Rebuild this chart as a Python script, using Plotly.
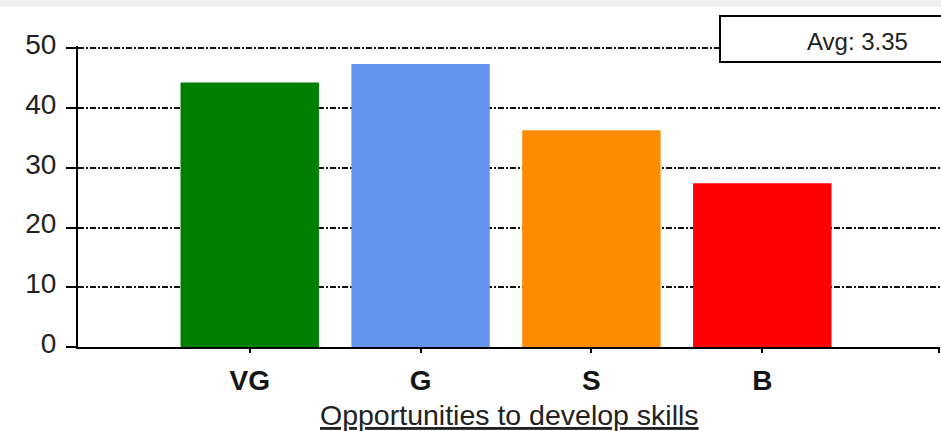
import plotly.graph_objects as go

categories = ["VG", "G", "S", "B"]
values = [44.3, 47.4, 36.3, 27.4]
colors = ["#008000", "#6495ED", "#FF8C00", "#FF0000"]
avg_label = "Avg: 3.35"
x_title = "Opportunities to develop skills"
y_ticks = [0, 10, 20, 30, 40, 50]

W, H = 941, 431
L, R, T, B = 78, 1, 46, 84
ph = H - T - B

def py(pix):
    return (H - B - pix) / ph

def px(pix):
    return (pix - L) / (W - L - R)

xpos = list(range(len(categories)))
fig = go.Figure()
fig.add_trace(go.Bar(
    x=xpos, y=values,
    marker=dict(color=colors, line=dict(width=0)),
    width=0.81, hoverinfo="skip",
))

fig.update_layout(
    width=W, height=H,
    margin=dict(l=L, r=R, t=T, b=B, autoexpand=False),
    paper_bgcolor="white", plot_bgcolor="white",
    showlegend=False,
    font=dict(family="Liberation Sans, Arial, sans-serif", color="#222222"),
    xaxis=dict(
        range=[-1.005, 4.04],
        tickmode="array",
        tickvals=xpos + [4.035],
        ticktext=categories + [""],
        tickfont=dict(size=28, family="Liberation Sans, Arial, sans-serif",
                      color="#151515", weight="bold"),
        ticks="outside", ticklen=4, tickwidth=1.5, tickcolor="black",
        ticklabelstandoff=3,
        showline=True, linecolor="black", linewidth=2,
        showgrid=False, zeroline=False, automargin=False,
    ),
    yaxis=dict(
        range=[0, 50.4],
        tickmode="array", tickvals=y_ticks,
        tickfont=dict(size=28, family="Liberation Sans, Arial, sans-serif", color="#222222"),
        ticks="outside", ticklen=10, tickwidth=1.5, tickcolor="black",
        ticklabelstandoff=4, ticklabelshift=-4,
        showline=True, linecolor="black", linewidth=2,
        showgrid=True, gridcolor="#111111", griddash="6px,2px,2px,2px", gridwidth=1.5,
        zeroline=False, automargin=False,
    ),
)

# light gray strip at top of page
fig.add_shape(type="rect", xref="paper", yref="paper",
              x0=px(-5), x1=px(W + 5), y0=py(6.5), y1=py(-5),
              fillcolor="#eeeeee", line=dict(width=0), layer="below")

# Avg box
fig.add_shape(type="rect", xref="paper", yref="paper",
              x0=px(720), x1=px(W + 20), y0=py(62), y1=py(16),
              fillcolor="white", line=dict(color="black", width=2))
fig.add_annotation(
    xref="paper", yref="paper", x=px(857), y=py(41),
    xanchor="center", yanchor="middle",
    text=avg_label, showarrow=False,
    font=dict(size=24, family="Liberation Sans, Arial, sans-serif", color="#222222"),
)

# x-axis title
fig.add_annotation(
    xref="paper", yref="paper", x=0.5, y=py(414.5),
    xanchor="center", yanchor="middle",
    text="<u>" + x_title + "</u>", showarrow=False,
    font=dict(size=28.5, family="Liberation Sans, Arial, sans-serif", color="#222222"),
)

fig.write_html("out.html",
               config={"displayModeBar": False},
               post_script="document.body.style.margin='0';document.body.style.overflow='hidden';")
